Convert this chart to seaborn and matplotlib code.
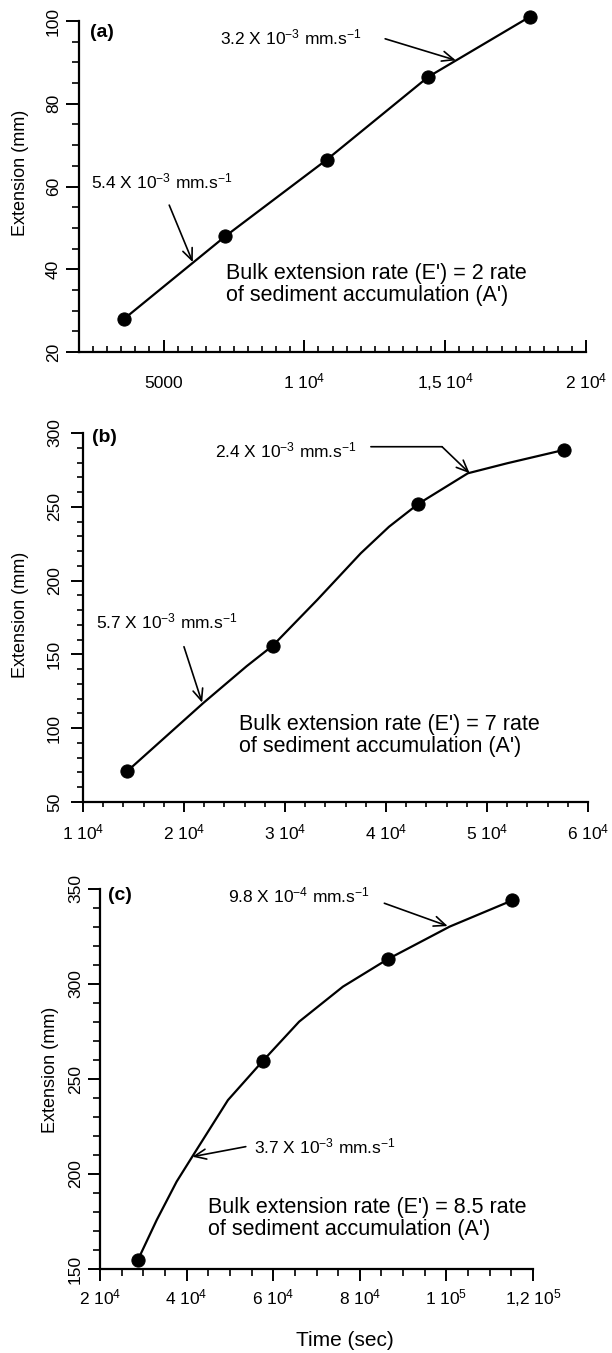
"""
Extension vs time for three experiments (a), (b), (c)
"""
import matplotlib
matplotlib.use("Agg")
import matplotlib.pyplot as plt
import matplotlib.ticker as mticker
import seaborn as sns

# --- valeurs ---
# (a)
time_a = [3600, 7200, 10800, 14400, 18000]
ext_a = [28, 48, 66.5, 86.5, 101]

# (b) points mesures + trace de la courbe dessinee a la main
time_b = [14400, 28800, 43200, 57600]
ext_b = [71, 156, 252, 288.5]
curve_b_t = [14400, 21900, 26200, 28800, 33200, 37500, 40300, 43200, 48100, 52000, 57600]
curve_b_e = [71, 117, 142, 156, 187, 218.5, 236.5, 252, 272.7, 279.5, 288.5]

# (c)
time_c = [28800, 57600, 86400, 115200]
ext_c = [155, 259.5, 313, 344]
curve_c_t = [28800, 33100, 37700, 41300, 49550, 57600, 66000, 76100, 86400, 100750, 115200]
curve_c_e = [155, 175.8, 196, 209.1, 238.9, 259.5, 280.2, 298.6, 313, 330.2, 344]

# ticks
xticks_a = [5000, 10000, 15000, 20000]
xlabels_a = ["5000", r"1 $\mathregular{10^{4}}$", r"1,5 $\mathregular{10^{4}}$", r"2 $\mathregular{10^{4}}$"]
xticks_b = [10000, 20000, 30000, 40000, 50000, 60000]
xlabels_b = [r"%d $\mathregular{10^{4}}$" % k for k in range(1, 7)]
xticks_c = [20000, 40000, 60000, 80000, 100000, 120000]
xlabels_c = [r"2 $\mathregular{10^{4}}$", r"4 $\mathregular{10^{4}}$", r"6 $\mathregular{10^{4}}$",
             r"8 $\mathregular{10^{4}}$", r"1 $\mathregular{10^{5}}$", r"1,2 $\mathregular{10^{5}}$"]

sns.set_theme(style="ticks")
plt.rcParams['font.family'] = ['Liberation Sans', 'DejaVu Sans']
plt.rcParams['mathtext.fontset'] = 'custom'
plt.rcParams['mathtext.rm'] = 'Liberation Sans'
plt.rcParams['mathtext.it'] = 'Liberation Sans:italic'
plt.rcParams['mathtext.bf'] = 'Liberation Sans:bold'
plt.rcParams['text.color'] = 'black'
plt.rcParams['axes.labelcolor'] = 'black'
plt.rcParams['xtick.color'] = 'black'
plt.rcParams['ytick.color'] = 'black'

fig = plt.figure(figsize=(6.12, 13.53), dpi=100)
W, H = 612.0, 1353.0


def make_axes(left, right, top, bottom):
    return fig.add_axes([left / W, 1 - bottom / H, (right - left) / W, (bottom - top) / H])


ax_a = make_axes(79, 586, 21, 352)
ax_b = make_axes(83, 588, 433, 802)
ax_c = make_axes(100, 533, 889, 1269)


def draw_panel(ax, line_t, line_e, pts_t, pts_e):
    sns.lineplot(x=line_t, y=line_e, ax=ax, color='black', lw=1.6,
                 estimator=None, sort=False, clip_on=False)
    sns.scatterplot(x=pts_t, y=pts_e, ax=ax, color='black', edgecolor='black',
                    s=90, zorder=3, clip_on=False, legend=False)


def style_axes(ax, xlim, ylim, xticks, xlabels, xminor, yticks, yminor,
               xdir, xlen, xpad, ylen, ypad):
    ax.set_xlim(*xlim)
    ax.set_ylim(*ylim)
    ax.set_xticks(xticks, xlabels)
    ax.xaxis.set_minor_locator(mticker.MultipleLocator(xminor))
    ax.set_yticks(yticks)
    ax.yaxis.set_minor_locator(mticker.MultipleLocator(yminor))
    sns.despine(ax=ax)
    for s in ['left', 'bottom']:
        ax.spines[s].set_linewidth(1.6)
        ax.spines[s].set_color('black')
    ax.tick_params(axis='x', which='major', direction=xdir, length=xlen[0], width=1.4,
                   pad=xpad, labelsize=12.5, colors='black')
    ax.tick_params(axis='x', which='minor', direction=xdir, length=xlen[1], width=1.2,
                   colors='black')
    ax.tick_params(axis='y', which='major', direction='out', length=ylen[0], width=1.4,
                   pad=ypad, labelsize=12.5, labelrotation=90, colors='black')
    ax.tick_params(axis='y', which='minor', direction='out', length=ylen[1], width=1.2,
                   colors='black')
    for lbl in ax.get_xticklabels():
        lbl.set_verticalalignment('baseline')
    for lbl in ax.get_yticklabels():
        lbl.set_verticalalignment('center')
    ax.set_xlabel('')
    ax.set_ylabel('Extension (mm)', fontsize=13, color='black')
    ax.grid(False)


def note(ax, txt, pos, tail, tip, size=12.5):
    ax.text(pos[0], pos[1], txt, fontsize=size, ha='left', va='center', color='black')
    ax.annotate("", xy=tip, xytext=tail,
                arrowprops=dict(arrowstyle="->,head_length=0.7,head_width=0.3",
                                color='black', lw=1.2, shrinkA=0, shrinkB=0))


# (a)
draw_panel(ax_a, time_a, ext_a, time_a, ext_a)
style_axes(ax_a, (2000, 20000), (20, 100), xticks_a, xlabels_a, 500,
           [20, 40, 60, 80, 100], 5, 'in', (9, 4), 26, (9.4, 5), 3.6)
ax_a.yaxis.set_label_coords(-0.099, 0.54)
ax_a.text(0.022, 0.964, '(a)', transform=ax_a.transAxes, fontsize=14,
          fontweight='bold', va='center', ha='left', color='black')
note(ax_a, r"3.2 X $\mathregular{10^{-3}}$ mm.s$\mathregular{^{-1}}$", (7015, 96.1),
     (12870, 95.7), (15380, 90.5))
note(ax_a, r"5.4 X $\mathregular{10^{-3}}$ mm.s$\mathregular{^{-1}}$", (2415, 61.1),
     (5203, 55.5), (6040, 41.7))
ax_a.text(7224, 41.5, "Bulk extension rate (E') = 2 rate\nof sediment accumulation (A')",
          fontsize=15.5, ha='left', va='top', linespacing=1.05, color='black')

# (b)
draw_panel(ax_b, curve_b_t, curve_b_e, time_b, ext_b)
style_axes(ax_b, (10000, 60000), (50, 300), xticks_b, xlabels_b, 2000,
           [50, 100, 150, 200, 250, 300], 10, 'out', (7.2, 3.6), 19.4, (8.6, 4.3), 6.5)
ax_b.yaxis.set_label_coords(-0.107, 0.507)
ax_b.text(0.018, 0.989, '(b)', transform=ax_b.transAxes, fontsize=14,
          fontweight='bold', va='center', ha='left', color='black')
ax_b.text(23048, 288.5, r"2.4 X $\mathregular{10^{-3}}$ mm.s$\mathregular{^{-1}}$",
          fontsize=12.5, ha='left', va='center', color='black')
ax_b.annotate("", xy=(45548, 290.7), xytext=(38504, 290.7),
              arrowprops=dict(arrowstyle="-", color='black', lw=1.2, shrinkA=0, shrinkB=0))
ax_b.annotate("", xy=(48287, 272.7), xytext=(45548, 290.7),
              arrowprops=dict(arrowstyle="->,head_length=0.7,head_width=0.3",
                              color='black', lw=1.2, shrinkA=0, shrinkB=0))
note(ax_b, r"5.7 X $\mathregular{10^{-3}}$ mm.s$\mathregular{^{-1}}$", (11309, 172.2),
     (19996, 155.2), (21796, 117.3))
ax_b.text(25474, 109.5, "Bulk extension rate (E') = 7 rate\nof sediment accumulation (A')",
          fontsize=15.5, ha='left', va='top', linespacing=1.05, color='black')

# (c)
draw_panel(ax_c, curve_c_t, curve_c_e, time_c, ext_c)
style_axes(ax_c, (20000, 120000), (150, 350), xticks_c, xlabels_c, 5000,
           [150, 200, 250, 300, 350], 10, 'out', (8.6, 5), 16.6, (8.6, 5), 3.6)
ax_c.yaxis.set_label_coords(-0.095, 0.524)
ax_c.text(0.018, 0.984, '(c)', transform=ax_c.transAxes, fontsize=14,
          fontweight='bold', va='center', ha='left', color='black')
note(ax_c, r"9.8 X $\mathregular{10^{-4}}$ mm.s$\mathregular{^{-1}}$", (49554, 346.8),
     (85669, 342.5), (100297, 330.5))
note(ax_c, r"3.7 X $\mathregular{10^{-3}}$ mm.s$\mathregular{^{-1}}$", (55497, 214.4),
     (53669, 214.4), (41325, 209.1))
ax_c.text(44983, 188, "Bulk extension rate (E') = 8.5 rate\nof sediment accumulation (A')",
          fontsize=15.5, ha='left', va='top', linespacing=1.05, color='black')

fig.text(345 / W, 1 - 1340 / H, 'Time (sec)', fontsize=15, ha='center', va='center',
         color='black')

fig.savefig('out.png', dpi=100, facecolor='white')
